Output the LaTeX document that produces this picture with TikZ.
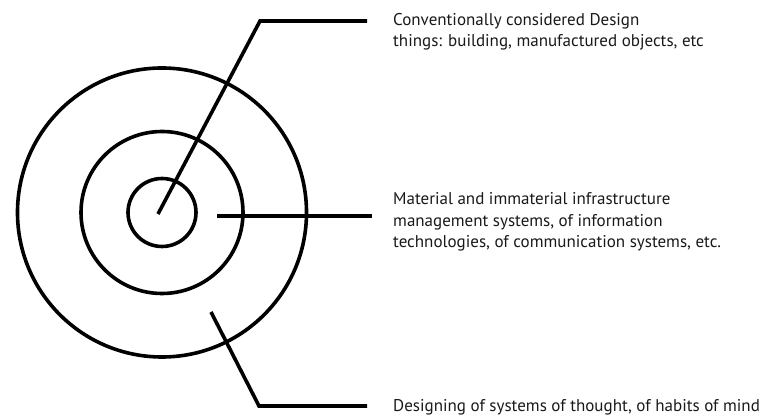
\documentclass[tikz,border=0pt]{standalone}
\usepackage{fontspec}
\setmainfont{PT Sans}
\usetikzlibrary{positioning}
\tikzset{
  ring/.style={draw, circle, line width=3.6pt, inner sep=0pt},
  lead/.style={line width=3.6pt},
  note/.style={anchor=base west, align=left, inner sep=0pt, font=\fontsize{17}{21.5}\selectfont, text=black!90},
}

\begin{document}
\begin{tikzpicture}[x=1pt, y=1pt]
  \useasboundingbox (0,0) rectangle (766,417);
  \coordinate (c) at (162,204.5);
  \node[ring, minimum size=289pt] (outer) at (c) {};
  \node[ring, minimum size=162pt] (middle) at (c) {};
  \node[ring, minimum size=68pt] (core) at (c) {};
  % leader lines
  \coordinate (s1) at (158,203);
  \coordinate (b1) at (260,396);
  \coordinate (e1) at (367,396);
  \coordinate (s2) at (217,201);
  \coordinate (e2) at (372,201);
  \coordinate (s3) at (211,105);
  \coordinate (b3) at (259,11);
  \coordinate (e3) at (367,11);
  \draw[lead] (s1)--(b1)--(e1);
  \draw[lead] (s2)--(e2);
  \draw[lead] (s3)--(b3)--(e3);
  % labels, placed by the baseline of their last line
  \node[note] (things) at (393,370) {Conventionally considered Design\\things: building, manufactured objects, etc};
  \node[note] (infra) at (393,169) {Material and immaterial infrastructure\\management systems, of information\\technologies, of communication systems, etc.};
  \node[note] (mind) at (393,5) {Designing of systems of thought, of habits of mind};
\end{tikzpicture}
\end{document}
